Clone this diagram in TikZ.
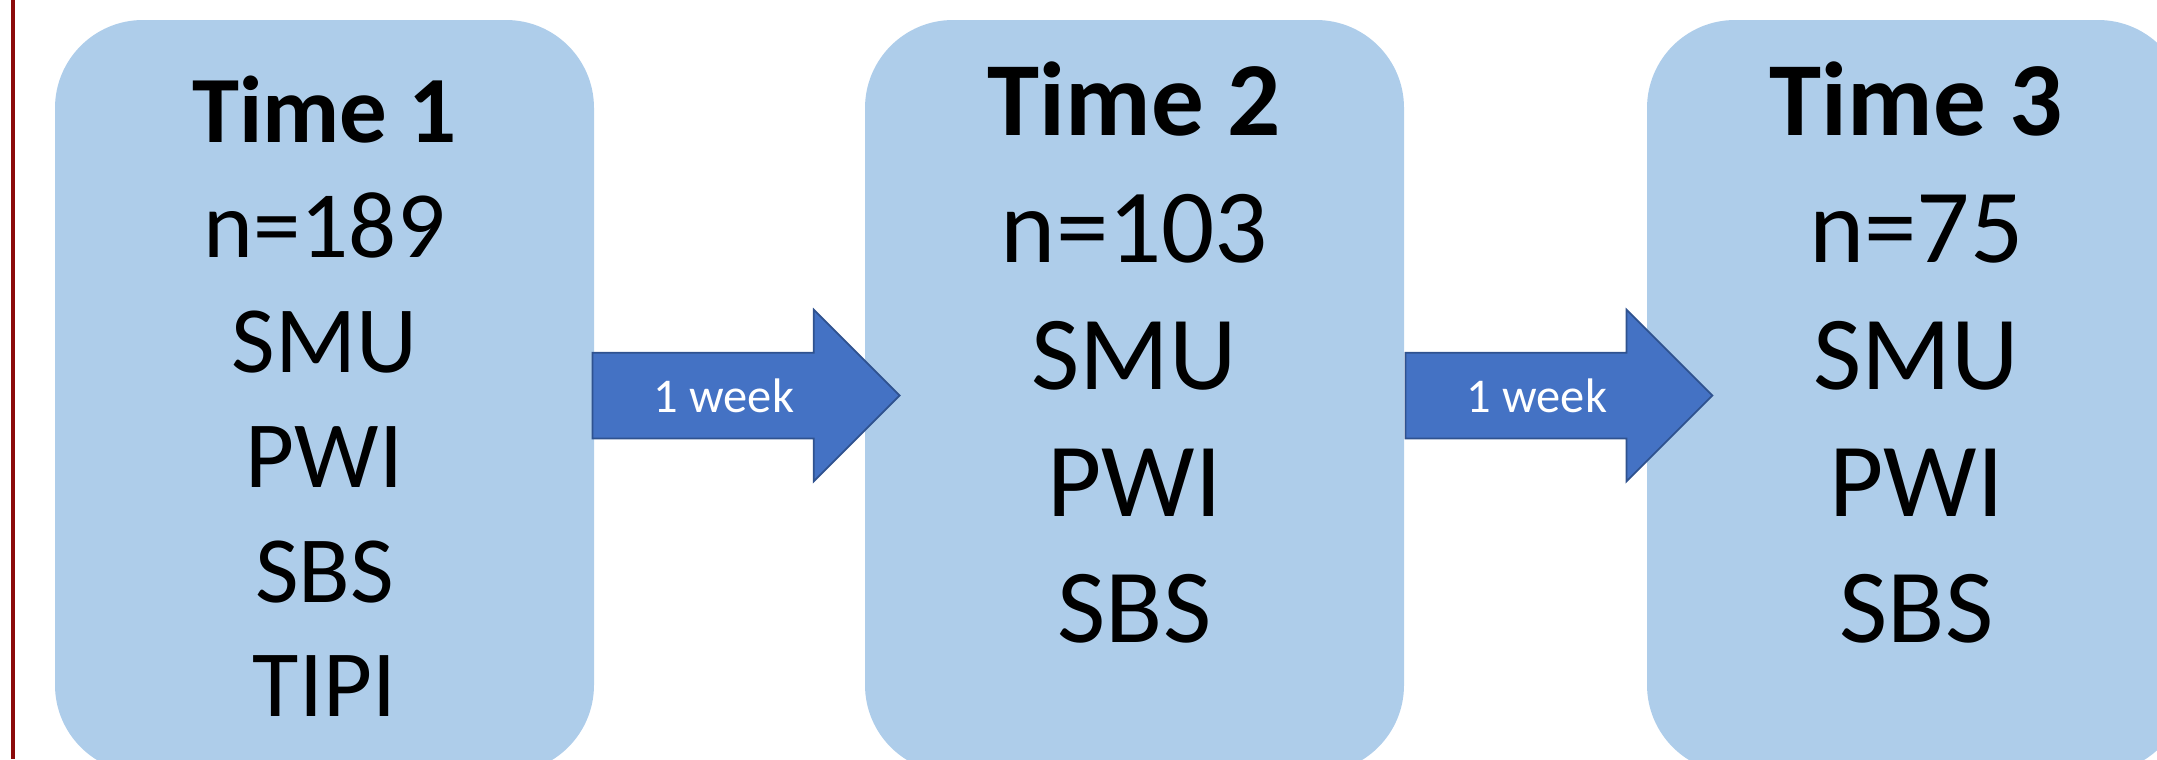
\documentclass[tikz,border=0pt]{standalone}
\usepackage{fontspec}
\setmainfont{Carlito}
\definecolor{BoxBlue}{HTML}{AECDEA}
\definecolor{ArrBlue}{HTML}{4472C4}
\definecolor{ArrEdge}{HTML}{2F528F}
\definecolor{RuleRed}{HTML}{8B0A0A}
\usetikzlibrary{positioning,shapes.arrows}

\begin{document}
\begin{tikzpicture}[
            tbox/.style={rectangle, rounded corners=0.88cm, fill=BoxBlue,
                      minimum width=5.39cm, minimum height=7.53cm, inner sep=0pt},
            ttext/.style={align=center, inner sep=0pt, anchor=north},
            wk/.style={single arrow, draw=ArrEdge, fill=ArrBlue, line width=0.5pt,
                      inner xsep=0pt, inner ysep=0.42cm, single arrow head extend=0.43cm,
                      minimum height=3.07cm, anchor=tail},
            wklab/.style={text=white, font=\fontsize{13.8}{16}\selectfont}]
        \useasboundingbox (0,0) rectangle (21.57,-7.59);
        \draw[RuleRed, line width=0.04cm] (0.13,0) -- (0.13,-7.59);
        % time points
        \node[tbox] (t1) at (3.245,-3.965)  {};
        \node[tbox] (t2) at (11.345,-3.965) {};
        \node[tbox] (t3) at (19.165,-3.965) {};
        % intervals
        \node[wk] (a1) at (5.917,-3.955)  {};
        \node[wk] (a2) at (14.045,-3.955) {};
        \node[wklab] (w1) at (7.24,-3.96)  {1 week};
        \node[wklab] (w2) at (15.37,-3.96) {1 week};
        % measures
        \node[ttext, font=\fontsize{27}{32.7}\selectfont] (m1) at (3.245,-0.75)
            {\textbf{Time 1}\\n=189\\SMU\\PWI\\SBS\\TIPI};
        \node[ttext, font=\fontsize{29.9}{36.1}\selectfont] (m2) at (11.345,-0.61)
            {\textbf{Time 2}\\n=103\\SMU\\PWI\\SBS};
        \node[ttext, font=\fontsize{29.9}{36.1}\selectfont] (m3) at (19.165,-0.61)
            {\textbf{Time 3}\\n=75\\SMU\\PWI\\SBS};
      \end{tikzpicture}
\end{document}
